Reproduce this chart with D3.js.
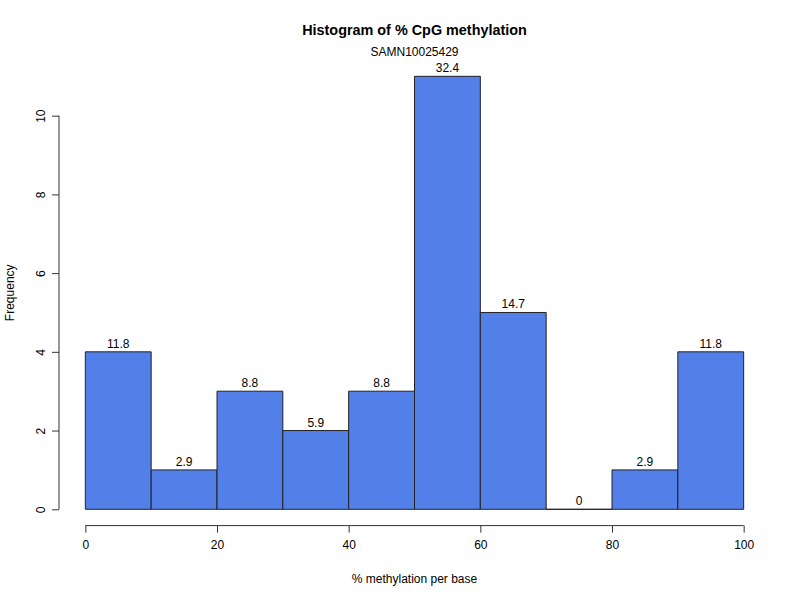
<!DOCTYPE html>
<html>
<head>
<meta charset="utf-8">
<script src="https://cdn.jsdelivr.net/npm/d3@7"></script>
<style>
  body { margin: 0; background: #fff; }
  text { font-family: "Liberation Sans", Arial, Helvetica, sans-serif; fill: #000; }
</style>
</head>
<body>
<svg id="chart" width="800" height="600"></svg>
<script>
const binStarts = [0, 10, 20, 30, 40, 50, 60, 70, 80, 90];
const binWidth = 10;
const counts = [4, 1, 3, 2, 3, 11, 5, 0, 1, 4];
const percentLabels = ["11.8", "2.9", "8.8", "5.9", "8.8", "32.4", "14.7", "0", "2.9", "11.8"];
const xTicks = [0, 20, 40, 60, 80, 100];
const yTicks = [0, 2, 4, 6, 8, 10];
const titleText = "Histogram of % CpG methylation";
const subtitleText = "SAMN10025429";
const xLabel = "% methylation per base";
const yLabel = "Frequency";

const svg = d3.select("#chart");
const plot = { left: 59, right: 770, top: 59, bottom: 526.6 };

const x = d3.scaleLinear().domain([-4, 104]).range([plot.left, plot.right]);
const y = d3.scaleLinear().domain([-0.44, 11.44]).range([plot.bottom, plot.top]);

const fill = "#527FE8";

// bars as closed paths so zero-height bins still draw their outline
svg.append("g").selectAll("path")
  .data(counts)
  .join("path")
  .attr("d", (d, i) => {
    const x0 = x(binStarts[i]), x1 = x(binStarts[i] + binWidth);
    const y0 = y(0), y1 = y(d);
    return `M${x0},${y0}L${x0},${y1}L${x1},${y1}L${x1},${y0}Z`;
  })
  .attr("fill", fill)
  .attr("stroke", "#222")
  .attr("stroke-width", 1);

// labels above bars
svg.append("g").selectAll("text")
  .data(counts)
  .join("text")
  .attr("x", (d, i) => x(binStarts[i] + binWidth / 2))
  .attr("y", d => y(d) - 4)
  .attr("text-anchor", "middle")
  .attr("font-size", 12)
  .text((d, i) => percentLabels[i]);

// x axis
const xAxis = d3.axisBottom(x).tickValues(xTicks).tickSize(7).tickPadding(8).tickFormat(d3.format("d"));
const gx = svg.append("g")
  .attr("transform", `translate(0,${plot.bottom - 1})`)
  .call(xAxis);
gx.select(".domain").attr("d", `M${x(0)},0H${x(100)}`).attr("stroke", "#333");
gx.selectAll(".tick line").attr("stroke", "#333");
gx.selectAll(".tick text").attr("font-size", 12).attr("font-family", "Liberation Sans, Arial, sans-serif");

// y axis
const yAxis = d3.axisLeft(y).tickValues(yTicks).tickSize(7).tickPadding(8).tickFormat(d3.format("d"));
const gy = svg.append("g")
  .attr("transform", `translate(${plot.left},0)`)
  .call(yAxis);
gy.select(".domain").attr("d", `M0,${y(0)}V${y(10)}`).attr("stroke", "#333");
gy.selectAll(".tick line").attr("stroke", "#333");
gy.selectAll(".tick text")
  .attr("font-size", 12)
  .attr("font-family", "Liberation Sans, Arial, sans-serif")
  .attr("x", 0).attr("dy", 0)
  .attr("text-anchor", "middle")
  .attr("transform", "translate(-18,0) rotate(-90)")
  .attr("y", 4);

// titles
svg.append("text")
  .attr("x", (plot.left + plot.right) / 2)
  .attr("y", 35)
  .attr("text-anchor", "middle")
  .attr("font-size", 14.4)
  .attr("font-weight", "bold")
  .text(titleText);

svg.append("text")
  .attr("x", (plot.left + plot.right) / 2)
  .attr("y", 56)
  .attr("text-anchor", "middle")
  .attr("font-size", 12)
  .text(subtitleText);

svg.append("text")
  .attr("x", (plot.left + plot.right) / 2)
  .attr("y", 583)
  .attr("text-anchor", "middle")
  .attr("font-size", 12)
  .text(xLabel);

svg.append("text")
  .attr("transform", `translate(14,${(plot.top + plot.bottom) / 2}) rotate(-90)`)
  .attr("text-anchor", "middle")
  .attr("font-size", 12)
  .text(yLabel);
</script>
</body>
</html>
